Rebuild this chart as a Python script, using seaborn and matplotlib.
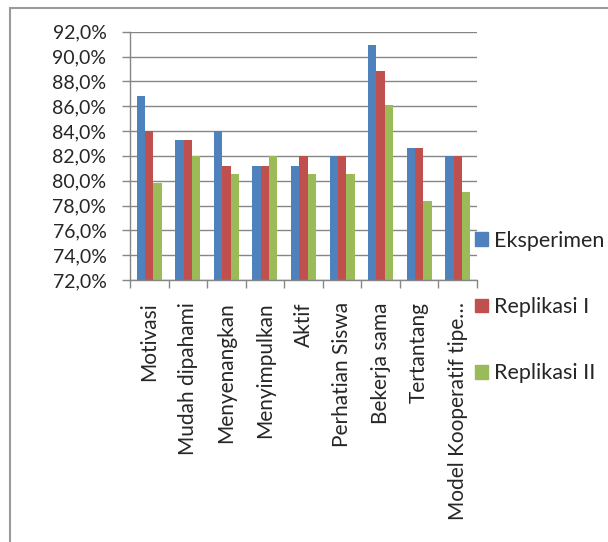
import matplotlib
matplotlib.use("Agg")
import matplotlib.pyplot as plt
import seaborn as sns
import pandas as pd
import numpy as np
from matplotlib.ticker import FuncFormatter, FixedLocator
from matplotlib.patches import Rectangle

categories = ["Motivasi", "Mudah dipahami", "Menyenangkan", "Menyimpulkan", "Aktif",
              "Perhatian Siswa", "Bekerja sama", "Tertantang", "Model Kooperatif tipe\u2026"]
series_names = ["Eksperimen", "Replikasi I", "Replikasi II"]
eksperimen = [86.8, 83.3, 84.0, 81.2, 81.2, 82.0, 90.9, 82.6, 82.0]
replikasi1 = [84.0, 83.3, 81.2, 81.2, 82.0, 82.0, 88.8, 82.6, 82.0]
replikasi2 = [79.8, 82.0, 80.5, 82.0, 80.5, 80.5, 86.1, 78.4, 79.1]
colors = ["#4F81BD", "#C0504D", "#9BBB59"]

df = pd.DataFrame({
    "kategori": categories * 3,
    "nilai": eksperimen + replikasi1 + replikasi2,
    "seri": [s for s in series_names for _ in categories],
})

sns.set_style("white")
plt.rcParams["font.family"] = ["Lato", "DejaVu Sans"]

W, H = 608, 542
fig = plt.figure(figsize=(W / 100, H / 100), dpi=100)
ax = fig.add_axes([130 / W, 1 - 280 / H, 347 / W, (280 - 31.7) / H])

sns.barplot(data=df, x="kategori", y="nilai", hue="seri", order=categories,
            hue_order=series_names, palette=colors, width=0.65, gap=0,
            saturation=1, ax=ax, legend=False, linewidth=0)

ax.set_ylim(72, 92)
ax.set_xlim(-0.5, len(categories) - 0.5)
ax.set_yticks(np.arange(72, 92.1, 2))
ax.yaxis.set_major_formatter(FuncFormatter(lambda v, p: f"{v:.1f}%".replace(".", ",")))
ax.grid(axis="y", color="#868686", linewidth=1)
ax.set_axisbelow(True)
ax.set_xlabel("")
ax.set_ylabel("")

fs_y = 14
fs = 15
ax.set_xticks(range(len(categories)))
ax.set_xticklabels(categories, rotation=90, fontsize=fs, va="top", ha="center")
ax.xaxis.set_minor_locator(FixedLocator(np.arange(-0.5, len(categories), 1)))
ax.tick_params(axis="x", which="major", length=0, pad=16)
ax.tick_params(axis="x", which="minor", length=6, width=1, color="#868686", direction="out")
ax.tick_params(axis="y", length=6, width=1, color="#868686", direction="out", pad=11, labelsize=fs_y)
ax.tick_params(axis="both", which="both", bottom=True, left=True)

for s in ["top", "right"]:
    ax.spines[s].set_visible(False)
for s in ["left", "bottom"]:
    ax.spines[s].set_color("#868686")
    ax.spines[s].set_linewidth(1)

handles = [Rectangle((0, 0), 1, 1, color=c) for c in colors]
fig.legend(handles, series_names, loc="center left",
           bbox_to_anchor=(475 / W, 1 - 307 / H), frameon=False, fontsize=15.5,
           handlelength=0.6, handleheight=0.6, handletextpad=0.3,
           labelspacing=2.15, borderpad=0, borderaxespad=0)

# outer chart border (left and top visible)
fig.add_artist(Rectangle((10 / W, -0.1), 2, 1 - 8 / H + 0.1, transform=fig.transFigure,
                         fill=False, edgecolor="#9a9a9a", linewidth=1.5, clip_on=False))

fig.savefig("out.png", dpi=100)
